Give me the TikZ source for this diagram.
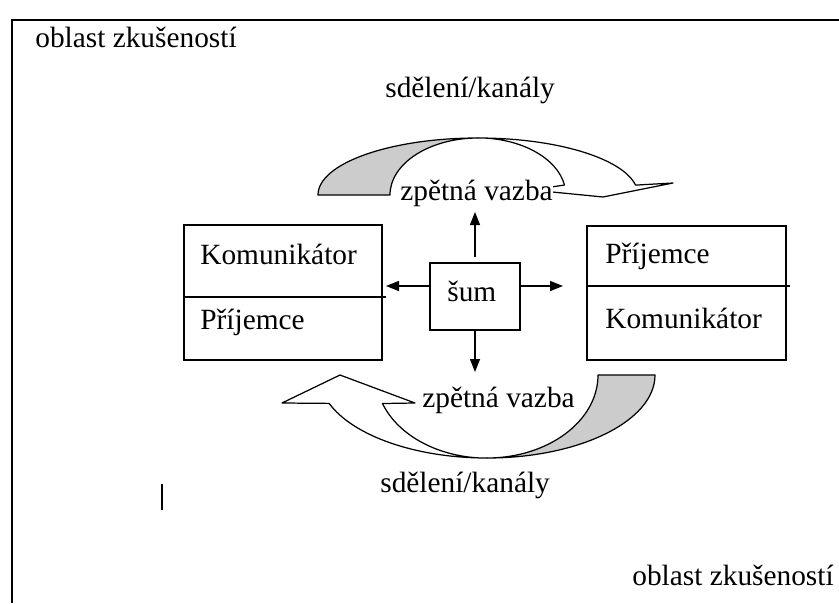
\documentclass[tikz,border=0pt]{standalone}
\usepackage{fontspec}
\setmainfont{Liberation Serif}
\usetikzlibrary{arrows.meta}

\begin{document}
\begin{tikzpicture}[
  box/.style={draw, line width=0.8pt, inner sep=0pt},
  txt/.style={anchor=base west, inner sep=0pt, font=\fontsize{16.7}{20}\selectfont},
  lbl/.style={txt, fill=white, inner ysep=1pt},
  arr/.style={line width=0.8pt, -{Triangle[length=0.26cm,width=0.2cm]}},
  band/.style={draw, line width=0.7pt, line join=round},
]
\useasboundingbox (-9.5,-6.12) rectangle (7.28,5.94);
\draw[line width=0.9pt] (-9.26,-6.12) -- (-9.26,5.54) -- (7.28,5.54);
\node[txt] (area1) at (-8.8,5.0) {oblast zkušeností};
\node[txt] (area2) at (3.14,-5.76) {oblast zkušeností};
\node[txt] (msg1) at (-1.8,4.0) {sdělení/kanály};
\node[txt] (msg2) at (-1.9,-3.9) {sdělení/kanály};
% horni sipka
\filldraw[band, fill=gray!40] (-3.14,2.04) arc[start angle=180, end angle=90, x radius=3.2, y radius=1.14]
  arc[start angle=90, end angle=180, x radius=1.76, y radius=1.14] -- cycle;
\filldraw[band, fill=white] (0.06,3.18) arc[start angle=90, end angle=10, x radius=3.2, y radius=1.14]
  -- (3.96,2.28) -- (2.56,2.00) -- (1.14,2.14) -- (1.79,2.24)
  arc[start angle=10, end angle=90, x radius=1.76, y radius=1.14] -- cycle;
% dolni sipka
\filldraw[band, fill=gray!40] (3.60,-1.56) arc[start angle=0, end angle=-90, x radius=3.36, y radius=1.66]
  arc[start angle=-90, end angle=0, x radius=2.22, y radius=1.66] -- cycle;
\filldraw[band, fill=white] (0.24,-3.22) arc[start angle=-90, end angle=-160, x radius=3.36, y radius=1.66]
  -- (-3.86,-2.12) -- (-2.70,-1.56) -- (-1.20,-2.12) -- (-1.85,-2.13)
  arc[start angle=-160, end angle=-90, x radius=2.22, y radius=1.66] -- cycle;
\node[lbl] (fb1) at (-1.5,1.94) {zpětná vazba};
\node[lbl] (fb2) at (-1.06,-2.2) {zpětná vazba};
% boxy
\node[box, minimum width=3.96cm, minimum height=2.70cm] (send) at (-3.84,0.09) {};
\node[box, minimum width=3.98cm, minimum height=2.68cm] (recv) at (4.23,0.08) {};
\node[box, minimum width=1.8cm, minimum height=1.34cm] (sum) at (0,0.01) {};
\draw[line width=0.8pt] (send.west |- 0,0) -- (-1.78,0);
\draw[line width=0.8pt] (recv.west |- 0,0.22) -- (6.30,0.22);
\node[txt] (k1) at (-5.5,0.66) {Komunikátor};
\node[txt] (p1) at (-5.5,-0.64) {Příjemce};
\node[txt] (p2) at (2.6,0.68) {Příjemce};
\node[txt] (k2) at (2.6,-0.62) {Komunikátor};
\node[txt] (noise) at (-0.56,-0.08) {šum};
% sipky od sumu
\coordinate (pl) at (-1.78,0.22);
\coordinate (pr) at (1.76,0.22);
\coordinate (pu) at (0,1.70);
\coordinate (pd) at (0,-1.50);
\draw[arr] (sum.west |- pl) -- (pl);
\draw[arr] (sum.east |- pr) -- (pr);
\draw[arr] ([yshift=0.1cm]sum.north) -- (pu);
\draw[arr] (sum.south) -- (pd);
\draw[line width=1.2pt] (-6.26,-3.74) -- (-6.26,-4.26);
\end{tikzpicture}
\end{document}
